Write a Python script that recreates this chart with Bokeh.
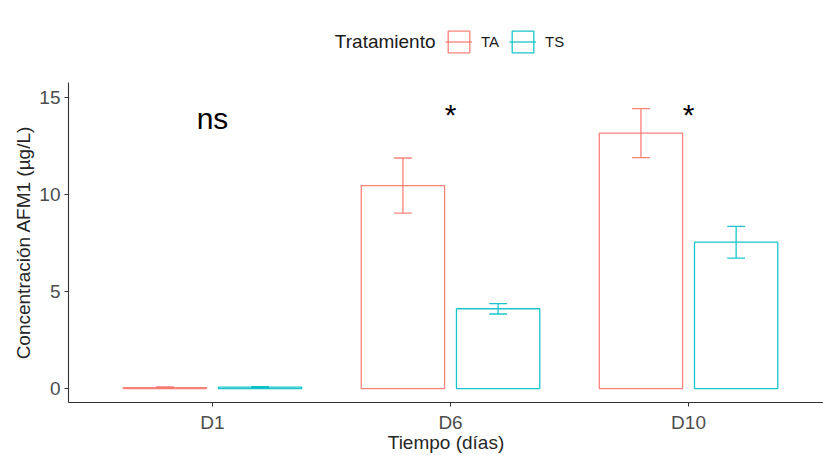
import numpy as np
from bokeh.plotting import figure
from bokeh.layouts import column
from bokeh.models import Range1d, FixedTicker, Legend, LegendItem, Label
from bokeh.core.properties import value
from bokeh.embed import file_html
from bokeh.resources import INLINE

# ---- data ----
categories = ["D1", "D6", "D10"]
groups = ["TA", "TS"]
ta_mean = [0.05, 10.46, 13.16]
ta_se = [0.03, 1.42, 1.26]
ts_mean = [0.07, 4.11, 7.54]
ts_se = [0.03, 0.27, 0.82]
sig_labels = ["ns", "*", "*"]
sig_y = [13.9, 14.1, 14.1]
y_ticks = [0, 5, 10, 15]
legend_title = "Tratamiento"

FONT = "Liberation Sans"
colors = {"TA": "#F8766D", "TS": "#00BFC4"}
offsets = {"TA": -0.2, "TS": 0.2}
BAR_W = 0.35
CAP_W = 0.075
LW = 1.3
LA = 0.9
HEADER_H = 70
W, H = 823, 455
FRAME_LEFT = 68

xpos = np.arange(1, len(categories) + 1, dtype=float)
series = {"TA": (ta_mean, ta_se), "TS": (ts_mean, ts_se)}


def draw_series(fig, g):
    mean, se = series[g]
    mean = np.array(mean)
    se = np.array(se)
    xc = xpos + offsets[g]
    bar = fig.vbar(x=xc, top=mean, bottom=0, width=BAR_W, fill_color="white",
                   line_color=colors[g], line_width=LW, line_alpha=LA)
    lo = mean - se
    hi = mean + se
    x0 = np.concatenate([xc, xc - CAP_W / 2, xc - CAP_W / 2])
    x1 = np.concatenate([xc, xc + CAP_W / 2, xc + CAP_W / 2])
    y0 = np.concatenate([lo, hi, lo])
    y1 = np.concatenate([hi, hi, lo])
    err = fig.segment(x0=x0, y0=y0, x1=x1, y1=y1, line_color=colors[g],
                      line_width=LW, line_alpha=LA)
    return [bar, err]


# ---- main plot ----
p = figure(width=W, height=H - HEADER_H, output_backend="svg", toolbar_location=None,
           x_range=Range1d(0.395, 3.567), y_range=Range1d(-0.72, 15.77),
           min_border_left=FRAME_LEFT, min_border_right=0,
           min_border_top=82 - HEADER_H, min_border_bottom=53)

for g in groups:
    draw_series(p, g)

p.text(x=xpos, y=sig_y, text=sig_labels, text_font=value(FONT),
       text_font_size="30px", text_align="center", text_baseline="alphabetic",
       text_color="black")

p.xaxis.ticker = FixedTicker(ticks=list(xpos))
p.xaxis.major_label_overrides = {int(x): c for x, c in zip(xpos, categories)}
p.yaxis.ticker = FixedTicker(ticks=y_ticks)
p.xaxis.axis_label = "Tiempo (días)"
p.yaxis.axis_label = "Concentración AFM1 (µg/L)"

for ax in (p.xaxis, p.yaxis):
    ax.axis_line_color = "#333333"
    ax.axis_line_width = 1.1
    ax.major_tick_line_color = "#333333"
    ax.major_tick_out = 4
    ax.major_tick_in = 0
    ax.minor_tick_line_color = None
    ax.major_label_text_font = FONT
    ax.major_label_text_font_size = "19px"
    ax.major_label_text_color = "#4d4d4d"
    ax.axis_label_text_font = FONT
    ax.axis_label_text_font_size = "19px"
    ax.axis_label_text_font_style = "normal"
    ax.axis_label_text_color = "#262626"
p.yaxis.major_label_standoff = 4
p.yaxis.axis_label_standoff = 2
p.xaxis.major_label_standoff = 5
p.xaxis.axis_label_standoff = -4

p.grid.visible = False
p.outline_line_color = None
p.background_fill_color = "white"
p.border_fill_color = "white"

# ---- header with legend (frame aligned with main frame: x in screen px) ----
hdr = figure(width=W, height=HEADER_H, output_backend="svg", toolbar_location=None,
             x_range=Range1d(FRAME_LEFT, W), y_range=Range1d(HEADER_H, 0),
             x_axis_type=None, y_axis_type=None,
             min_border_left=FRAME_LEFT, min_border_right=0, min_border_top=0,
             min_border_bottom=0)
hdr.grid.visible = False
hdr.outline_line_color = None
hdr.border_fill_color = "white"
hdr.background_fill_color = "white"

# hidden proxy renderers that only supply the legend keys
proxies = {g: draw_series(hdr, g) for g in groups}
for rs in proxies.values():
    for r in rs:
        r.visible = False

legend = Legend(items=[LegendItem(label=g, renderers=proxies[g]) for g in groups],
                orientation="horizontal",
                location=(445 - FRAME_LEFT, HEADER_H - 28 - 27),
                glyph_width=27, glyph_height=27, label_standoff=9, spacing=10,
                padding=0, margin=0, border_line_alpha=0, background_fill_alpha=0,
                inactive_fill_alpha=0,
                label_text_font=FONT, label_text_font_size="15px",
                label_text_color="#1a1a1a", label_width=0)
hdr.add_layout(legend)

hdr.add_layout(Label(x=435, y=41, text=legend_title, text_font=FONT,
                     text_font_size="19px", text_align="right",
                     text_baseline="middle", text_color="#1a1a1a"))

layout = column(hdr, p, spacing=0)
open("out.html", "w").write(file_html(layout, INLINE))
